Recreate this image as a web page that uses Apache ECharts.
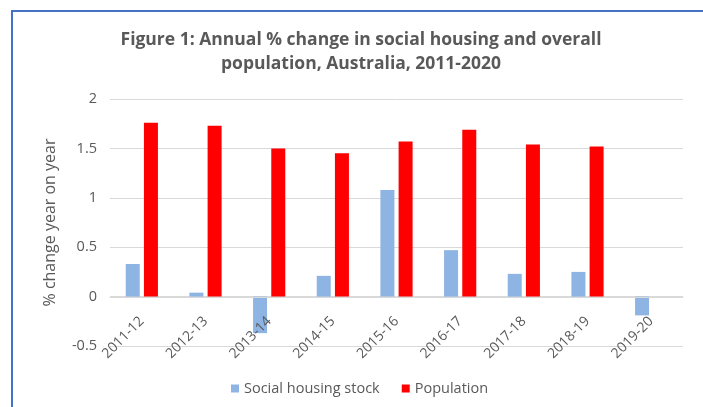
<!DOCTYPE html>
<html>
<head>
<meta charset="utf-8">
<script src="https://cdn.jsdelivr.net/npm/echarts@6/dist/echarts.min.js"></script>
<style>
html,body{margin:0;padding:0;background:#fff;}
#chart{width:703px;height:407px;}
</style>
</head>
<body>
<div id="chart"></div>
<script>
var categories = ['2011-12','2012-13','2013-14','2014-15','2015-16','2016-17','2017-18','2018-19','2019-20'];
var socialHousing = [0.33, 0.04, -0.37, 0.21, 1.08, 0.47, 0.23, 0.25, -0.19];
var population = [1.76, 1.73, 1.50, 1.45, 1.57, 1.69, 1.54, 1.52, null];
var yTicks = [-0.5, 0, 0.5, 1, 1.5, 2];
var seriesNames = ['Social housing stock', 'Population'];
var titleText = 'Figure 1: Annual % change in social housing and overall\npopulation, Australia, 2011-2020';
var yAxisName = '% change year on year';

var font = '"Open Sans", "Noto Sans", sans-serif';
var chart = echarts.init(document.getElementById('chart'), null, {renderer: 'canvas'});
chart.setOption({
  animation: false,
  backgroundColor: '#ffffff',
  graphic: [{
    type: 'rect',
    shape: {x: 12, y: 11, width: 720, height: 420},
    style: {fill: 'none', stroke: '#4472C4', lineWidth: 2},
    silent: true
  }],
  title: {
    text: titleText,
    left: 356, top: 23,
    textAlign: 'center',
    textStyle: {fontFamily: font, fontSize: 17.5, fontWeight: 'bold', color: '#595959', lineHeight: 24}
  },
  legend: {
    bottom: 6, left: 226,
    itemWidth: 8, itemHeight: 8, itemGap: 22,
    icon: 'rect',
    textStyle: {fontFamily: font, fontSize: 14.5, color: '#595959'},
    data: seriesNames
  },
  grid: {left: 110, right: 20, top: 99, bottom: 61, containLabel: false},
  xAxis: {
    type: 'category',
    data: categories,
    offset: -49,
    z: 10,
    axisLine: {onZero: false, lineStyle: {color: '#d9d9d9'}},
    axisTick: {show: false},
    axisLabel: {rotate: 45, fontFamily: font, fontSize: 14, color: '#595959', margin: 22, interval: 0}
  },
  yAxis: {
    type: 'value',
    min: yTicks[0], max: yTicks[yTicks.length-1], interval: 0.5,
    name: yAxisName,
    nameLocation: 'middle',
    nameGap: 52,
    nameTextStyle: {fontFamily: font, fontSize: 16, color: '#595959'},
    axisLine: {show: false},
    axisTick: {show: false},
    axisLabel: {fontFamily: font, fontSize: 14.5, color: '#595959', margin: 13},
    splitLine: {lineStyle: {color: '#d9d9d9', width: 1}}
  },
  series: [
    {name: seriesNames[0], type: 'bar', z: 2, data: socialHousing, barWidth: 14, barGap: '30%', itemStyle: {color: '#8DB4E2'}},
    {name: seriesNames[1], type: 'bar', z: 2, data: population, barWidth: 14, barGap: '30%', itemStyle: {color: '#FF0000'}}
  ]
});
</script>
</body>
</html>
